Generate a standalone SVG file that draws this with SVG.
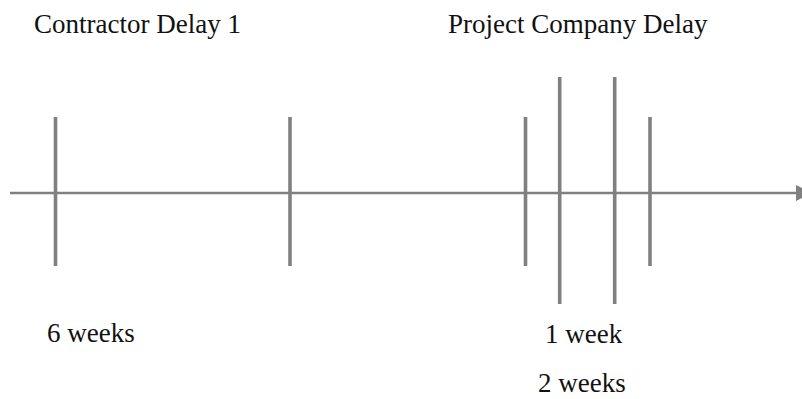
<svg xmlns="http://www.w3.org/2000/svg" width="802" height="399" viewBox="0 0 802 399">
  <style>
    .axis { stroke: #808080; stroke-width: 2.6; fill: none; }
    .tick { stroke: #808080; stroke-width: 3.6; fill: none; }
    .lbl { font-family: "Liberation Serif", "Times New Roman", serif; font-size: 27px; fill: #111111; }
  </style>
  <rect width="802" height="399" fill="#ffffff"/>
  <g id="connectors">
    <line class="axis" x1="10" y1="193" x2="798" y2="193"/>
    <polygon points="796,185 812,193 796,201" fill="#808080"/>
  </g>
  <g id="ticks">
    <line class="tick" x1="55.5" y1="117" x2="55.5" y2="266"/>
    <line class="tick" x1="290" y1="117" x2="290" y2="266"/>
    <line class="tick" x1="525.5" y1="117" x2="525.5" y2="266"/>
    <line class="tick" x1="559.7" y1="77" x2="559.7" y2="304"/>
    <line class="tick" x1="614.7" y1="77" x2="614.7" y2="304"/>
    <line class="tick" x1="650" y1="117" x2="650" y2="266"/>
  </g>
  <g id="label-contractor-delay"><text class="lbl" x="34" y="33">Contractor Delay 1</text></g>
  <g id="label-project-company-delay"><text class="lbl" x="448" y="33">Project Company Delay</text></g>
  <g id="label-6-weeks"><text class="lbl" x="47" y="342">6 weeks</text></g>
  <g id="label-1-week"><text class="lbl" x="545" y="343">1 week</text></g>
  <g id="label-2-weeks"><text class="lbl" x="538" y="392">2 weeks</text></g>
</svg>
